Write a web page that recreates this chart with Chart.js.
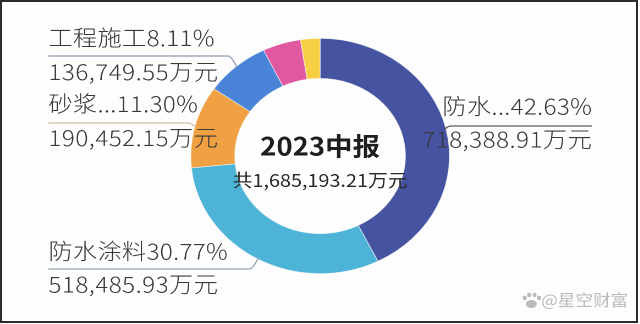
<!DOCTYPE html>
<html><head><meta charset="utf-8">
<script src="https://cdn.jsdelivr.net/npm/chart.js@4"></script>
<style>
html,body{margin:0;padding:0;background:#fdfdfd;width:640px;height:324px;overflow:hidden;}
#wrap{position:absolute;left:0;top:0;width:582px;height:324px;transform:scaleX(1.1);transform-origin:0 0;}
#frame{position:absolute;left:0;top:0;width:638px;height:323px;box-sizing:border-box;border:2px solid #2b2b2b;pointer-events:none;}
</style></head><body>
<div id="wrap"><canvas id="c" width="582" height="324"></canvas></div>
<div id="frame"></div>
<script>
// ---- data ----
const categories = ['防水卷材', '防水涂料', '砂浆', '工程施工', '其他A', '其他B'];
const shortNames = ['防水...', '防水涂料', '砂浆...', '工程施工'];
const values = [718388.91, 518485.93, 190452.15, 136749.55, 80300.00, 40816.67];
const colors = ['#4553a1', '#4db4d8', '#f0a143', '#4a84d8', '#e0589f', '#f6cf45'];
const centerTitle = '2023中报';
const unit = '万元';

function fmt(v) {
  const parts = v.toFixed(2).split('.');
  return parts[0].replace(/\B(?=(\d{3})+(?!\d))/g, ',') + '.' + parts[1];
}
const total = values.reduce((a, b) => a + b, 0);

// label layout (positions/styles only)
const labelLayout = [
  { side: 'right', textX: 538, y1: 106, y2: 139, lineY: 126, line: '#5c5c5c' },
  { side: 'left',  textX: 44,  y1: 251, y2: 284, lineY: 269, line: '#8ea3ad' },
  { side: 'left',  textX: 44,  y1: 103.5, y2: 137.5, lineY: 123, line: '#cbbf9f' },
  { side: 'left',  textX: 44,  y1: 37.5, y2: 71.5, lineY: 56, line: '#8b9cb0' }
];
const FONT = '"Noto Sans CJK SC", "Noto Sans", sans-serif';

function drawSpaced(ctx, text, x, y, align, spacing) {
  // manual letter spacing
  let w = 0;
  const ws = [...text].map(ch => { const m = ctx.measureText(ch).width; w += m; return m; });
  w += spacing * (ws.length - 1);
  let cx = align === 'right' ? x - w : x;
  ctx.textAlign = 'left';
  [...text].forEach((ch, k) => { ctx.fillText(ch, cx, y); cx += ws[k] + spacing; });
}

const labelPlugin = {
  id: 'labels',
  afterDraw(chart) {
    const ctx = chart.ctx;
    const meta = chart.getDatasetMeta(0);
    ctx.save();
    labelLayout.forEach((L, i) => {
      const arc = meta.data[i];
      const p = arc.getProps(['startAngle', 'endAngle', 'outerRadius', 'x', 'y'], true);
      const mid = (p.startAngle + p.endAngle) / 2;
      const ax = p.x + Math.cos(mid) * (p.outerRadius - 1);
      const ay = p.y + Math.sin(mid) * (p.outerRadius - 1);
      ctx.strokeStyle = L.line;
      ctx.lineWidth = 1.2;
      ctx.lineJoin = 'round';
      ctx.beginPath();
      ctx.moveTo(ax, ay);
      if (L.side === 'left') {
        const ex = ax - 6;
        ctx.quadraticCurveTo(ex + 1, L.lineY, ex - 2, L.lineY);
        ctx.lineTo(L.textX, L.lineY);
      } else {
        const ex = ax + 3.5;
        ctx.quadraticCurveTo(ex - 1, L.lineY, ex + 2, L.lineY);
        ctx.lineTo(L.textX, L.lineY);
      }
      ctx.stroke();

      ctx.fillStyle = '#383838';
      ctx.font = '300 22px ' + FONT;
      ctx.textBaseline = 'middle';
      const pct = (values[i] / total * 100).toFixed(2) + '%';
      drawSpaced(ctx, shortNames[i] + pct, L.textX, L.y1, L.side, 0.3);
      drawSpaced(ctx, fmt(values[i]) + unit, L.textX, L.y2, L.side, 0.45);
    });

    const cx = meta.data[0].x;
    ctx.textAlign = 'center';
    ctx.textBaseline = 'middle';
    ctx.fillStyle = '#1e1e1e';
    ctx.font = 'bold 25px ' + FONT;
    ctx.fillText(centerTitle, cx, 146);
    ctx.fillStyle = '#2a2a2a';
    ctx.font = '18px ' + FONT;
    ctx.fillText('共' + fmt(total) + unit, cx, 180);

    ctx.fillStyle = 'rgba(175,175,175,0.85)';
    ctx.font = '16px ' + FONT;
    ctx.textAlign = 'left';
    ctx.fillText('@星空财富', 492, 300);
    ctx.beginPath(); ctx.ellipse(483, 304, 5, 4, 0, 0, Math.PI * 2); ctx.fill();
    [[477, 298], [481, 295], [486, 295], [490, 298]].forEach(([x, y]) => {
      ctx.beginPath(); ctx.ellipse(x, y, 1.8, 2.2, 0, 0, Math.PI * 2); ctx.fill();
    });
    ctx.restore();
  }
};

new Chart(document.getElementById('c'), {
  type: 'doughnut',
  data: {
    labels: categories,
    datasets: [{
      data: values,
      backgroundColor: colors,
      borderColor: 'rgba(255,255,255,0.55)',
      borderWidth: 0.8
    }]
  },
  options: {
    responsive: false,
    devicePixelRatio: 2,
    animation: false,
    cutout: '66%',
    layout: { padding: { top: 38, bottom: 50, left: 0, right: 0 } },
    plugins: { legend: { display: false }, tooltip: { enabled: false } }
  },
  plugins: [labelPlugin]
});
</script>
</body></html>
